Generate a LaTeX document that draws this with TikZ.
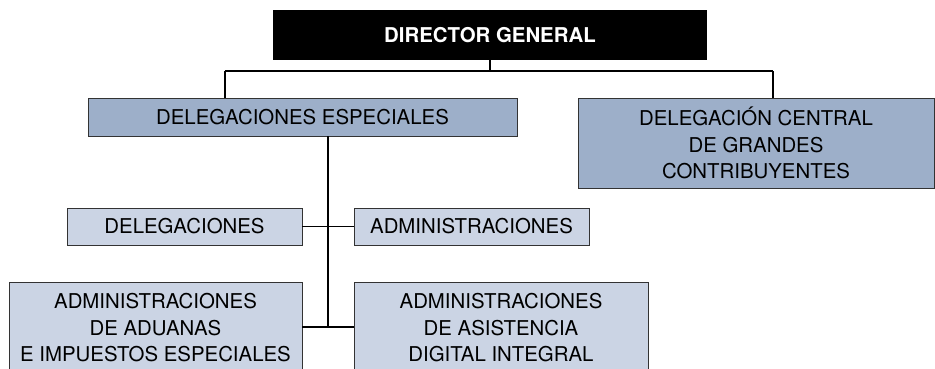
\documentclass[tikz,border=0pt]{standalone}
\usepackage{fontspec}
\setmainfont{TeX Gyre Heros}
\definecolor{darkbox}{HTML}{9DAFC9}
\definecolor{lightbox}{HTML}{CBD4E4}
\definecolor{boxline}{HTML}{333333}
\begin{document}
\begin{tikzpicture}[x=1pt,y=-1pt,
  every node/.style={inner sep=0pt,outer sep=0pt,align=center,
    font=\fontsize{20.4}{26.5}\selectfont},
  darkstyle/.style={draw=boxline,line width=0.9pt,fill=darkbox},
  lightstyle/.style={draw=boxline,line width=0.9pt,fill=lightbox},
  topstyle/.style={fill=black,text=white,font=\fontsize{20.4}{26.5}\selectfont\bfseries},
  conn/.style={draw=black,line width=1.1pt}]
\useasboundingbox (0,0) rectangle (935,368);
\begin{scope}
\clip (0,0) rectangle (935,368);
\node[topstyle,minimum width=434pt,minimum height=50pt] (dg) at (490,35) {DIRECTOR GENERAL};
\node[darkstyle,minimum width=429pt,minimum height=38pt] (de) at (302.5,117) {DELEGACIONES ESPECIALES};
\node[darkstyle,minimum width=356pt,minimum height=90pt] (dc) at (756,143) {DELEGACIÓN CENTRAL\\DE GRANDES\\CONTRIBUYENTES};
\node[lightstyle,minimum width=235pt,minimum height=37pt] (del) at (184.5,226.5) {DELEGACIONES};
\node[lightstyle,minimum width=235pt,minimum height=37pt] (adm) at (471.5,226.5) {ADMINISTRACIONES};
\node[lightstyle,minimum width=293pt,minimum height=92pt] (abl) at (155.5,328) {ADMINISTRACIONES\\DE ADUANAS\\E IMPUESTOS ESPECIALES};
\node[lightstyle,minimum width=294pt,minimum height=92pt] (abr) at (501,328) {ADMINISTRACIONES\\DE ASISTENCIA\\DIGITAL INTEGRAL};

\coordinate (j1) at (490,71);
\coordinate (jl) at (225,71);
\coordinate (jr) at (773,71);
\coordinate (sp) at (328,117);
\coordinate (spb) at (328,327);
\draw[conn] (dg.south) -- (j1);
\draw[conn] (jl) -- (jr);
\draw[conn] (jl) -- (de.north -| jl);
\draw[conn] (jr) -- (dc.north -| jr);
\draw[conn] (de.south -| sp) -- (spb);
\draw[conn] (del.east) -- (adm.west);
\draw[conn] (abl.east |- spb) -- (abr.west |- spb);
\end{scope}
\end{tikzpicture}
\end{document}
